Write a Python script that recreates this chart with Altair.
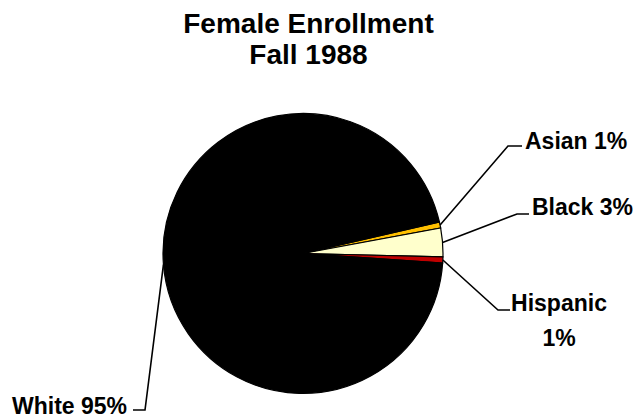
import math
import altair as alt
import pandas as pd

# ---- data ----
categories = ["Asian", "Black", "Hispanic", "White"]
shares = [0.7, 3.3, 0.7, 95.3]
label_texts = ["Asian 1%", "Black 3%", "Hispanic\n1%", "White 95%"]
title_lines = ["Female Enrollment", "Fall 1988"]

# ---- styles / layout ----
colors = ["#FFC000", "#FFFFCC", "#C00000", "#000000"]
W, H = 627, 410
M = 8                       # page margin
CX, CY, R = 303 - M, 253.5 - M, 140
START = math.radians(77)    # where the first slice begins (clockwise from 12 o'clock)
FONT = "Liberation Sans"

# elbow / end of each leader line and label anchor (page px)
elbows = {"Asian": (508, 146, 522), "Black": (517, 214, 529),
          "Hispanic": (498, 310, 510), "White": (145, 410, 133)}
label_pos = {"Asian": (525, 149, "left"), "Black": (532, 215, "left"),
             "Hispanic": (559, 311, "center"), "White": (12, 414, "left")}

pie_df = pd.DataFrame({"category": categories, "share": shares,
                       "idx": list(range(len(categories)))})

total = sum(shares)
rows = []
cum = 0.0
for cat, v in zip(categories, shares):
    mid = START + 2 * math.pi * (cum + v / 2) / total
    cum += v
    sx, sy = CX + R * math.sin(mid), CY - R * math.cos(mid)
    ex, ey, hx = elbows[cat]
    rows += [{"cat": cat, "i": 0, "x": sx, "y": sy},
             {"cat": cat, "i": 1, "x": ex - M, "y": ey - M},
             {"cat": cat, "i": 2, "x": hx - M, "y": ey - M}]
lead_df = pd.DataFrame(rows)

lab_rows = []
for cat, t in zip(categories, label_texts):
    x, y, a = label_pos[cat]
    lab_rows.append({"cat": cat, "text": t, "x": x - M, "y": y - M, "a": a})
lab_df = pd.DataFrame(lab_rows)

pie = alt.Chart(pie_df).mark_arc(stroke="#000000", strokeWidth=1.2, outerRadius=R).encode(
    theta=alt.Theta("share:Q", stack=True,
                    scale=alt.Scale(range=[START, START + 2 * math.pi])),
    color=alt.Color("category:N", scale=alt.Scale(domain=categories, range=colors),
                    legend=None),
    order=alt.Order("idx:Q"),
    x=alt.value(CX), y=alt.value(CY),
)

leaders = alt.Chart(lead_df).mark_line(color="#000000", strokeWidth=1.6).encode(
    x=alt.X("x:Q", scale=None), y=alt.Y("y:Q", scale=None),
    detail="cat:N", order="i:Q")

txt_left = alt.Chart(lab_df[lab_df.a == "left"]).mark_text(
    font=FONT, fontSize=23, fontWeight="bold", align="left",
    baseline="alphabetic", color="#000000").encode(
    x=alt.X("x:Q", scale=None), y=alt.Y("y:Q", scale=None), text="text:N")

txt_center = alt.Chart(lab_df[lab_df.a == "center"]).mark_text(
    font=FONT, fontSize=23, fontWeight="bold", align="center",
    baseline="alphabetic", lineBreak="\n", lineHeight=35,
    color="#000000").encode(
    x=alt.X("x:Q", scale=None), y=alt.Y("y:Q", scale=None), text="text:N")

title_df = pd.DataFrame({"t": title_lines, "x": [308.5 - M] * 2, "y": [33 - M, 64 - M]})
title = alt.Chart(title_df).mark_text(
    font=FONT, fontSize=28, fontWeight="bold", align="center",
    baseline="alphabetic", color="#000000").encode(
    x=alt.X("x:Q", scale=None), y=alt.Y("y:Q", scale=None), text="t:N")

chart = alt.layer(pie, leaders, txt_left, txt_center, title).properties(
    width=W, height=H, padding=0, autosize=alt.AutoSizeParams(type="none")
).configure_view(stroke=None)

chart.save("out.html", embed_options={"renderer": "svg", "actions": False})
